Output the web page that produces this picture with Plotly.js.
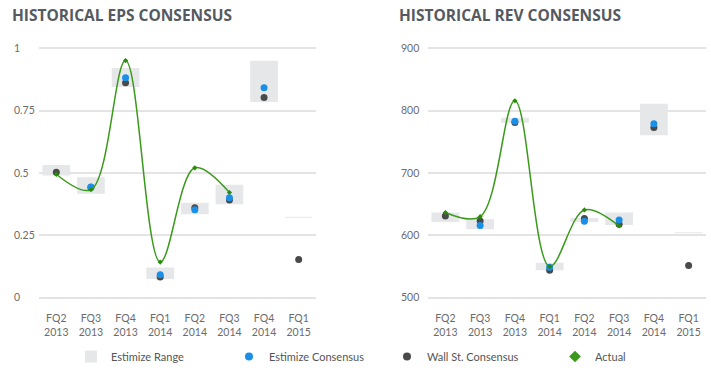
<!DOCTYPE html>
<html>
<head>
<meta charset="utf-8">
<script src="https://cdn.plot.ly/plotly-3.0.1.min.js"></script>
<style>html,body{margin:0;padding:0;background:#fff}#chart{width:711px;height:371px}</style>
</head>
<body>
<div id="chart"></div>
<script>
var quarters = ["FQ2<br>2013","FQ3<br>2013","FQ4<br>2013","FQ1<br>2014","FQ2<br>2014","FQ3<br>2014","FQ4<br>2014","FQ1<br>2015"];

var epsRangeLow  = [0.49, 0.417, 0.845, 0.075, 0.335, 0.375, 0.785, 0.321];
var epsRangeHigh = [0.532, 0.483, 0.921, 0.121, 0.381, 0.453, 0.950, 0.325];
var epsEstimize  = [null, 0.444, 0.882, 0.092, 0.353, 0.401, 0.842, null];
var epsWallSt    = [0.503, 0.443, 0.862, 0.083, 0.361, 0.392, 0.803, 0.153];
var epsActual    = [0.495, 0.433, 0.951, 0.143, 0.521, 0.422, null, null];

var revRangeLow  = [621.5, 609.7, 780.6, 544, 621.5, 616.6, 760.8, 603.5];
var revRangeHigh = [636.6, 625.8, 788.7, 556, 628, 636.6, 811, 605];
var revEstimize  = [null, 616, 783, 549, 622.6, 624.7, 779, null];
var revWallSt    = [631, 623, 781, 544, 627, 618, 773, 551.6];
var revActual    = [636.6, 630, 816, 550, 640.8, 615, null, null];

function diff(h, l){ return h.map(function(v,i){ return v - l[i]; }); }

var RANGE_COLOR = "#e6e7e9", EST_COLOR = "#1a8fe8", WS_COLOR = "#4a4a4a", ACT_COLOR = "#3a9a1a";

function makeTraces(low, high, est, ws, act, xa, ya, showLeg){
  return [
    {type:"bar", x:quarters, y:diff(high, low), base:low, width:0.8, marker:{color:RANGE_COLOR},
     name:"Estimize Range", xaxis:xa, yaxis:ya, showlegend:showLeg, hoverinfo:"skip"},
    {type:"scatter", mode:"markers", x:quarters, y:ws, marker:{color:WS_COLOR, size:7},
     name:"Wall St. Consensus", xaxis:xa, yaxis:ya, showlegend:false},
    {type:"scatter", mode:"markers", x:quarters, y:est, marker:{color:EST_COLOR, size:7},
     name:"Estimize Consensus", xaxis:xa, yaxis:ya, showlegend:false},
    {type:"scatter", mode:"lines+markers", x:quarters, y:act, line:{color:ACT_COLOR, width:1.5, shape:"spline", smoothing:1},
     marker:{color:"#2a8a0a", size:4, symbol:"diamond"}, connectgaps:false,
     name:"Actual", xaxis:xa, yaxis:ya, showlegend:false}
  ];
}

var traces = [].concat(
  makeTraces(epsRangeLow, epsRangeHigh, epsEstimize, epsWallSt, epsActual, "x", "y", true),
  makeTraces(revRangeLow, revRangeHigh, revEstimize, revWallSt, revActual, "x2", "y2", false)
);
// legend-only entries
traces.push({type:"scatter", mode:"markers", x:[null], y:[null], marker:{color:EST_COLOR, size:8}, name:"Estimize Consensus", xaxis:"x", yaxis:"y"});
traces.push({type:"scatter", mode:"markers", x:[null], y:[null], marker:{color:WS_COLOR, size:8}, name:"Wall St. Consensus", xaxis:"x", yaxis:"y"});
traces.push({type:"scatter", mode:"markers", x:[null], y:[null], marker:{color:ACT_COLOR, size:9, symbol:"diamond"}, name:"Actual", xaxis:"x", yaxis:"y", legend:"legend2"});

var W = 711, H = 371;
var tickFont = {family:"Lato, 'Open Sans', sans-serif", size:10.5, color:"#6b6b6b"};
var legFont = {family:"Lato, 'Open Sans', sans-serif", size:11, color:"#555"};
function xax(d0, d1, anchor){
  return {domain:[d0/W, d1/W], anchor:anchor, range:[-0.5, 7.5], showgrid:false, zeroline:false,
          showline:false, ticks:"", ticklabelstandoff:8, tickfont:tickFont, fixedrange:true};
}
// data range maps to px 298.5..48.5 ; pad 0.02 of span (5px) on each side
function yax(lo, hi, dtick, posPx){
  var pad = (hi - lo) * 0.02;
  return {domain:[1 - 303.5/H, 1 - 43.5/H], anchor:"free", position:posPx/W, range:[lo - pad, hi + pad], dtick:dtick,
          showgrid:true, gridcolor:"#e4e4e4", gridwidth:2, zeroline:false, showline:false, ticks:"",
          ticklabelposition:"inside", ticklabeloverflow:"allow", tickfont:tickFont, fixedrange:true};
}

var layout = {
  width:W, height:H, margin:{l:0, r:0, t:0, b:0},
  paper_bgcolor:"#fff", plot_bgcolor:"#fff",
  barmode:"overlay", showlegend:true,
  xaxis: xax(39, 316, "y"),
  yaxis: yax(0, 1, 0.25, 10),
  xaxis2: xax(428, 706, "y2"),
  yaxis2: yax(500, 900, 100, 397),
  legend:{orientation:"h", x:71/W, xanchor:"left", y:1 - 357/H, yanchor:"middle",
          entrywidth:113, entrywidthmode:"pixels", font:legFont},
  legend2:{orientation:"h", x:(573-18)/W, xanchor:"left", y:1 - 357/H, yanchor:"middle", font:legFont},
  annotations:[
    {text:"HISTORICAL EPS CONSENSUS", xref:"paper", yref:"paper", x:10/W, y:1 - 15/H, xanchor:"left", yanchor:"middle",
     showarrow:false, font:{family:"'Open Sans', sans-serif", size:15.5, color:"#555a60", weight:700}},
    {text:"HISTORICAL REV CONSENSUS", xref:"paper", yref:"paper", x:397/W, y:1 - 15/H, xanchor:"left", yanchor:"middle",
     showarrow:false, font:{family:"'Open Sans', sans-serif", size:15.5, color:"#555a60", weight:700}}
  ]
};

Plotly.newPlot("chart", traces, layout, {displayModeBar:false, staticPlot:true});
</script>
</body>
</html>
